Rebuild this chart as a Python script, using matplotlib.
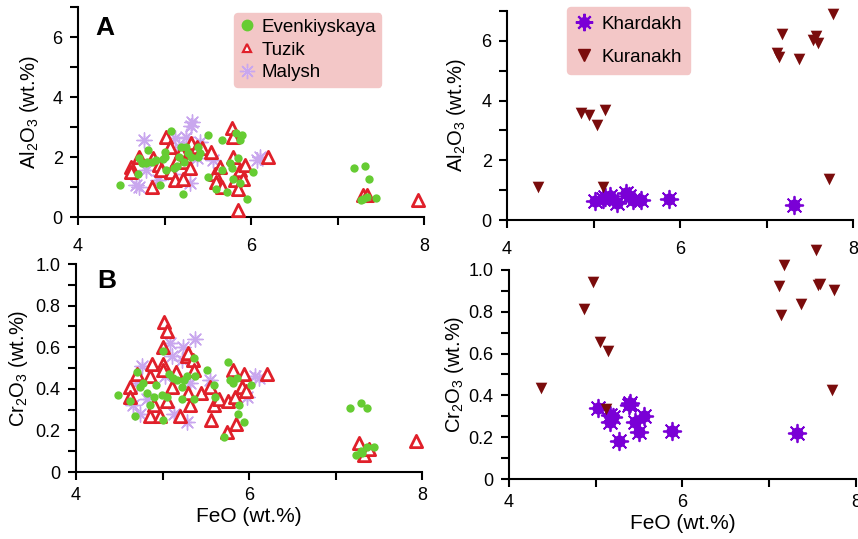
import matplotlib
matplotlib.use("Agg")
import matplotlib.pyplot as plt
from matplotlib.lines import Line2D
from matplotlib.ticker import MultipleLocator, FuncFormatter

plt.rcParams['font.family'] = ['Liberation Sans', 'DejaVu Sans']
plt.rcParams['mathtext.default'] = 'regular'

# ---- panel A, left: Al2O3 vs FeO ----
evk_feo_a = [4.49, 4.69, 4.71, 4.79, 4.81, 4.86, 4.90, 4.95, 5.00, 5.01, 5.02, 5.08,
             5.17, 5.19, 5.21, 5.23, 5.25, 5.27, 5.31, 5.39, 5.39, 5.50, 5.50, 5.60,
             5.66, 5.66, 5.72, 5.76, 5.78, 5.83, 5.87, 5.85, 5.87, 5.90, 5.95, 6.02,
             5.79, 4.74, 4.80, 4.98, 5.11, 5.15, 5.41,
             7.19, 7.32, 7.36, 7.29, 7.34, 7.45, 7.27]
evk_al2o3 = [1.06, 1.43, 1.96, 1.79, 2.23, 1.84, 1.90, 1.06, 2.18, 2.01, 1.56, 2.88,
             2.01, 2.35, 0.76, 1.84, 2.35, 2.12, 2.01, 2.35, 2.01, 2.74, 1.34, 0.95,
             2.57, 1.56, 0.84, 1.79, 1.62, 2.79, 2.57, 1.96, 1.12, 2.74, 0.61, 1.51,
             1.28, 1.79, 1.85, 1.95, 1.62, 1.70, 2.12,
             1.65, 1.71, 1.28, 0.61, 0.67, 0.64, 0.58]

tuz_feo_a = [4.61, 4.61, 4.70, 4.86, 4.87, 4.94, 4.96, 5.02, 5.06, 5.08, 5.12, 5.14,
             5.19, 5.21, 5.23, 5.29, 5.31, 5.37, 5.43, 5.54, 5.58, 5.60, 5.64, 5.66,
             5.78, 5.79, 5.79, 5.81, 5.85, 5.85, 5.87, 5.93, 5.91, 6.20, 7.93,
             7.29, 7.34]
tuz_al2o3 = [1.68, 1.51, 2.01, 1.01, 1.96, 1.73, 1.56, 2.68, 2.35, 1.51, 1.23, 1.90,
             2.18, 1.28, 1.84, 1.62, 2.46, 2.35, 2.29, 2.18, 1.45, 1.17, 1.68, 1.01,
             2.96, 2.68, 2.01, 1.23, 0.95, 0.22, 1.56, 1.73, 1.28, 2.01, 0.56,
             0.73, 0.73]

mal_feo_a = [4.76, 4.71, 4.67, 4.79, 4.92, 5.12, 5.17, 5.10, 5.29, 5.32, 5.31, 5.25,
             5.37, 5.56, 6.10, 6.07, 5.41]
mal_al2o3 = [2.57, 1.01, 1.06, 1.56, 1.23, 2.63, 2.35, 1.45, 1.12, 3.18, 3.02, 2.68,
             1.96, 1.90, 2.01, 1.90, 2.51]

# ---- panel A, right ----
kha_feo_a = [5.02, 5.11, 5.13, 5.19, 5.27, 5.37, 5.41, 5.46, 5.55, 5.87, 7.32]
kha_al2o3 = [0.65, 0.70, 0.76, 0.80, 0.56, 0.91, 0.79, 0.67, 0.67, 0.70, 0.50]

kur_feo_a = [4.36, 4.85, 4.95, 5.04, 5.13, 5.11, 7.12, 7.15, 7.18, 7.37, 7.54, 7.57,
             7.60, 7.77, 7.72]
kur_al2o3 = [1.12, 3.59, 3.51, 3.17, 3.70, 1.10, 5.61, 5.47, 6.24, 5.38, 6.03, 6.17,
             5.94, 6.89, 1.38]

# ---- panel B, left: Cr2O3 vs FeO ----
evk_feo_b = [4.49, 4.62, 4.68, 4.70, 4.78, 4.82, 4.86, 4.90, 4.93, 4.99, 5.01, 5.00,
             5.07, 5.05, 5.17, 5.22, 5.22, 5.28, 5.36, 5.38, 5.36, 5.51, 5.59, 5.61,
             5.71, 5.76, 5.78, 5.82, 5.88, 5.87, 5.94, 6.02, 5.86, 4.74, 5.12, 5.25,
             7.17, 7.30, 7.36, 7.24, 7.29, 7.36, 7.44, 7.31]
evk_cr2o3 = [0.37, 0.34, 0.27, 0.48, 0.43, 0.38, 0.32, 0.36, 0.42, 0.37, 0.25, 0.58,
             0.47, 0.36, 0.44, 0.41, 0.35, 0.46, 0.55, 0.46, 0.35, 0.49, 0.42, 0.36,
             0.17, 0.53, 0.44, 0.43, 0.32, 0.28, 0.24, 0.42, 0.45, 0.41, 0.45, 0.44,
             0.31, 0.33, 0.31, 0.08, 0.10, 0.12, 0.12, 0.09]

tuz_feo_b = [4.62, 4.62, 4.70, 4.85, 4.86, 4.88, 4.90, 4.97, 5.01, 5.01, 5.02, 5.05,
             5.00, 5.05, 5.11, 5.15, 5.20, 5.28, 5.30, 5.32, 5.30, 5.35, 5.36, 5.44,
             5.55, 5.56, 5.59, 5.65, 5.74, 5.76, 5.81, 5.85, 5.84, 5.92, 5.94, 5.96,
             6.21, 7.93, 7.27, 7.33, 7.39]
tuz_cr2o3 = [0.41, 0.36, 0.47, 0.27, 0.46, 0.52, 0.32, 0.27, 0.52, 0.60, 0.72, 0.68,
             0.49, 0.34, 0.41, 0.48, 0.27, 0.56, 0.57, 0.32, 0.38, 0.54, 0.49, 0.38,
             0.41, 0.25, 0.32, 0.35, 0.19, 0.34, 0.49, 0.23, 0.36, 0.41, 0.47, 0.39,
             0.47, 0.15, 0.14, 0.08, 0.11]

mal_feo_b = [4.66, 4.74, 4.76, 4.70, 5.09, 5.11, 5.13, 5.24, 5.38, 5.28, 5.22, 5.55,
             5.98, 6.07, 6.11, 5.03, 4.82, 5.32]
mal_cr2o3 = [0.32, 0.28, 0.51, 0.43, 0.62, 0.56, 0.28, 0.60, 0.64, 0.24, 0.54, 0.44,
             0.36, 0.46, 0.45, 0.46, 0.35, 0.43]

# ---- panel B, right ----
kha_feo_b = [5.03, 5.17, 5.20, 5.16, 5.27, 5.38, 5.39, 5.45, 5.56, 5.50, 5.88, 7.32]
kha_cr2o3 = [0.341, 0.306, 0.298, 0.274, 0.182, 0.354, 0.362, 0.274, 0.301, 0.226,
             0.230, 0.218]

kur_feo_b = [4.37, 4.86, 4.97, 5.05, 5.14, 5.12, 7.11, 7.17, 7.14, 7.37, 7.54, 7.56,
             7.59, 7.75, 7.72]
kur_cr2o3 = [0.434, 0.814, 0.942, 0.654, 0.614, 0.333, 0.925, 1.026, 0.786, 0.837,
             1.094, 0.926, 0.933, 0.906, 0.426]

GREEN = '#66cc33'
RED = '#e0202a'
LILAC = '#c9a7ee'
PURPLE = '#7a00d6'
DARKRED = '#7a0c0c'
PINK = '#f3c7c7'


def style_axes(ax, ymax, ystep, yfmt):
    ax.set_xlim(4, 8)
    ax.set_ylim(0, ymax)
    for s in ['top', 'right']:
        ax.spines[s].set_visible(False)
    for s in ['left', 'bottom']:
        ax.spines[s].set_linewidth(1.5)
    ax.xaxis.set_major_locator(MultipleLocator(1))
    ax.xaxis.set_major_formatter(FuncFormatter(lambda v, p: '%d' % v if int(round(v)) % 2 == 0 else ''))
    ax.yaxis.set_major_locator(MultipleLocator(ystep))
    ax.yaxis.set_major_formatter(FuncFormatter(yfmt))
    ax.tick_params(direction='out', length=6, width=1.5, labelsize=13, pad=5)


def al_fmt(v, p):
    iv = int(round(v))
    return '%d' % iv if iv % 2 == 0 else ''


def cr_fmt(v, p):
    k = int(round(v * 10))
    if k % 2:
        return ''
    return '0' if k == 0 else '%.1f' % v


def draw_malysh(ax, x, y):
    ax.scatter(x, y, s=30, marker='o', color='#eadcf8', zorder=2, clip_on=False)
    ax.scatter(x, y, s=120, marker=(8, 2, 0), color=LILAC, linewidths=1.0, zorder=2, clip_on=False)


def draw_khardakh(ax, x, y):
    ax.scatter(x, y, s=60, marker='o', color=PURPLE, zorder=3, clip_on=False)
    ax.scatter(x, y, s=160, marker=(8, 2, 0), color=PURPLE, linewidths=1.3, zorder=3, clip_on=False)


fig = plt.figure(figsize=(8.58, 5.39), dpi=100)
ax_tl = fig.add_axes([0.0909, 0.5974, 0.4033, 0.3896])
ax_tr = fig.add_axes([0.5909, 0.5918, 0.4033, 0.3878])
ax_bl = fig.add_axes([0.0886, 0.1243, 0.4033, 0.3859])
ax_br = fig.add_axes([0.5932, 0.1113, 0.4044, 0.3878])

# left panels
for ax, mx, my, tx, ty, ex, ey in [
        (ax_tl, mal_feo_a, mal_al2o3, tuz_feo_a, tuz_al2o3, evk_feo_a, evk_al2o3),
        (ax_bl, mal_feo_b, mal_cr2o3, tuz_feo_b, tuz_cr2o3, evk_feo_b, evk_cr2o3)]:
    draw_malysh(ax, mx, my)
    ax.scatter(tx, ty, s=78, marker='^', facecolors='white', edgecolors=RED,
               linewidths=2.0, zorder=3, clip_on=False)
    ax.scatter(ex, ey, s=36, marker='o', color=GREEN, linewidths=0, zorder=4, clip_on=False)

# right panels
for ax, kx, ky, hx, hy in [
        (ax_tr, kur_feo_a, kur_al2o3, kha_feo_a, kha_al2o3),
        (ax_br, kur_feo_b, kur_cr2o3, kha_feo_b, kha_cr2o3)]:
    draw_khardakh(ax, hx, hy)
    ax.scatter(kx, ky, s=70, marker='v', color=DARKRED, linewidths=0, zorder=4, clip_on=False)

style_axes(ax_tl, 7, 1, al_fmt)
style_axes(ax_tr, 7, 1, al_fmt)
style_axes(ax_bl, 1.0, 0.1, cr_fmt)
style_axes(ax_br, 1.0, 0.1, cr_fmt)
for ax in [ax_tl, ax_tr]:
    ax.tick_params(axis='x', pad=9)

al_label = r'Al$_2$O$_3$ (wt.%)'
cr_label = r'Cr$_2$O$_3$ (wt.%)'
ax_tl.set_ylabel(al_label, fontsize=14.5, labelpad=8)
ax_tr.set_ylabel(al_label, fontsize=14.5, labelpad=10)
ax_bl.set_ylabel(cr_label, fontsize=14.5, labelpad=4)
ax_br.set_ylabel(cr_label, fontsize=14.5, labelpad=2)
ax_bl.set_xlabel('FeO (wt.%)', fontsize=15, labelpad=2)
ax_br.set_xlabel('FeO (wt.%)', fontsize=15, labelpad=2)

ax_tl.text(0.05, 0.955, 'A', transform=ax_tl.transAxes, fontsize=19,
           fontweight='bold', va='top', ha='left')
ax_bl.text(0.06, 0.975, 'B', transform=ax_bl.transAxes, fontsize=19,
           fontweight='bold', va='top', ha='left')

# legends
h_evk = Line2D([], [], ls='none', marker='o', ms=7.5, color=GREEN, mec=GREEN)
h_tuz = Line2D([], [], ls='none', marker='^', ms=6, mfc='white', mec=RED, mew=1.6)
h_mal = (Line2D([], [], ls='none', marker='o', ms=4, color='#eadcf8'),
         Line2D([], [], ls='none', marker=(8, 2, 0), ms=11, color=LILAC, mew=1.0))
h_kha = (Line2D([], [], ls='none', marker='o', ms=7, color=PURPLE),
         Line2D([], [], ls='none', marker=(8, 2, 0), ms=12.5, color=PURPLE, mew=1.5))
h_kur = Line2D([], [], ls='none', marker='v', ms=8.5, color=DARKRED)

leg1 = ax_tl.legend([h_evk, h_tuz, h_mal], ['Evenkiyskaya', 'Tuzik', 'Malysh'],
                    loc='upper left', bbox_to_anchor=(0.451, 0.971), borderaxespad=0,
                    fontsize=13.5, handlelength=0.8, handletextpad=0.35,
                    labelspacing=0.3, borderpad=0.3, frameon=True, fancybox=True)
leg2 = ax_tr.legend([h_kha, h_kur], ['Khardakh', 'Kuranakh'],
                    loc='upper left', bbox_to_anchor=(0.173, 1.019), borderaxespad=0,
                    fontsize=13.5, handlelength=0.9, handletextpad=0.5,
                    labelspacing=0.85, borderpad=0.45, frameon=True, fancybox=True)
for leg in [leg1, leg2]:
    fr = leg.get_frame()
    fr.set_facecolor(PINK)
    fr.set_edgecolor(PINK)
    fr.set_alpha(1)

fig.savefig('out.png', dpi=100)
